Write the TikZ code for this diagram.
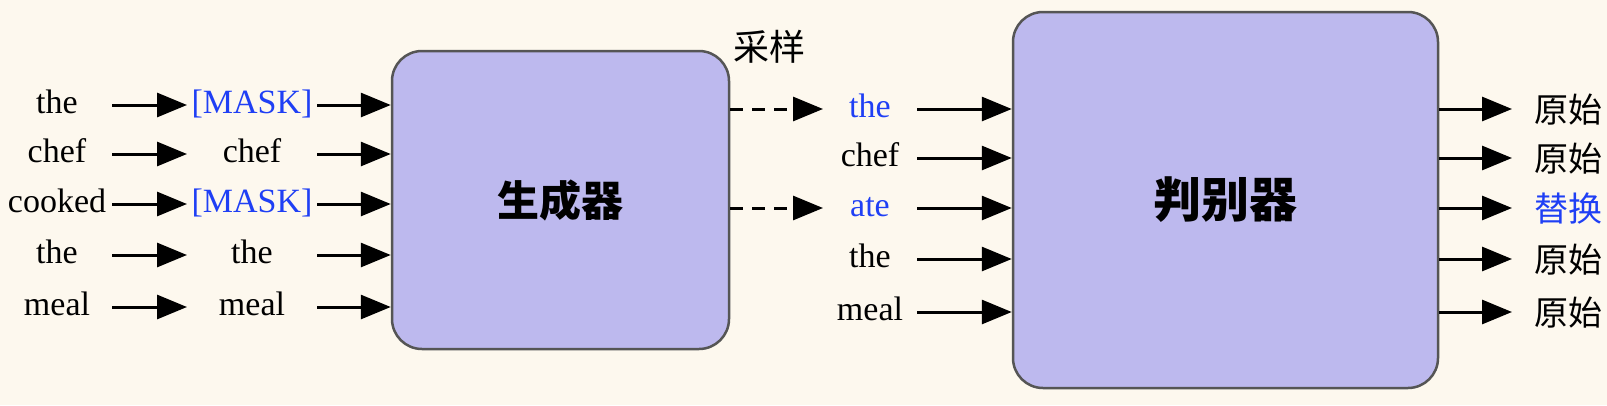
\documentclass[tikz,border=0pt]{standalone}
\usepackage{fontspec}
\setmainfont{Liberation Serif}
\newfontfamily\cjk{Noto Sans CJK SC}
\usetikzlibrary{arrows.meta}
\definecolor{bgc}{HTML}{FDF8EE}
\definecolor{boxc}{HTML}{BDB9EE}
\definecolor{edgec}{HTML}{555555}
\definecolor{bluec}{HTML}{1F3FF5}
\begin{document}
\begin{tikzpicture}[x=1pt,y=-1pt,
  arr/.style={line width=3pt,-{Triangle[length=30pt,width=24pt]}},
  dsh/.style={arr,dash pattern=on 13pt off 9pt},
  wd/.style={inner sep=0pt,outer sep=0pt,font=\fontsize{34}{36}\selectfont,text height=20pt,text depth=4pt,align=center},
  cw/.style={inner sep=0pt,outer sep=0pt,font=\cjk\fontsize{34}{36}\selectfont,text height=30pt,text depth=4pt,align=center},
  bigbox/.style={draw=edgec,line width=2.5pt,fill=boxc,rounded corners=30pt,inner sep=0pt,font=\cjk\bfseries},
  blue/.style={text=bluec}]
\fill[bgc] (0,0) rectangle (1607,405);
\useasboundingbox (0,0) rectangle (1607,405);
% boxes
\node[bigbox,minimum width=337pt,minimum height=298pt,font=\cjk\bfseries\fontsize{42}{44}\selectfont] (gen) at (560.5,200) {生成器};
\node[bigbox,minimum width=425pt,minimum height=376pt,font=\cjk\bfseries\fontsize{48}{50}\selectfont] (dis) at (1225.5,200) {判别器};
% column 1
\foreach \i/\w/\y in {1/the/105,2/chef/154,3/cooked/204,4/the/255,5/meal/307}{
  \node[wd,minimum width=110pt] (a\i) at (57,\y) {\w};
}
% column 2
\node[wd,minimum width=130pt,blue] (b1) at (252,105) {[MASK]};
\node[wd,minimum width=130pt] (b2) at (252,154) {chef};
\node[wd,minimum width=130pt,blue] (b3) at (252,204) {[MASK]};
\node[wd,minimum width=130pt] (b4) at (252,255) {the};
\node[wd,minimum width=130pt] (b5) at (252,307) {meal};
\foreach \i in {1,...,5}{
  \draw[arr] (a\i.east) -- (b\i.west);
  \draw[arr] (b\i.east) -- (b\i.east -| gen.west);
}
% column 3
\node[wd,minimum width=94pt,blue] (c1) at (870,109) {the};
\node[wd,minimum width=94pt] (c2) at (870,158) {chef};
\node[wd,minimum width=94pt,blue] (c3) at (870,208) {ate};
\node[wd,minimum width=94pt] (c4) at (870,259) {the};
\node[wd,minimum width=94pt] (c5) at (870,312) {meal};
\draw[dsh] (c1.west -| gen.east) -- (c1.west);
\draw[dsh] (c3.west -| gen.east) -- (c3.west);
\node[cw,font=\cjk\fontsize{36}{38}\selectfont] (samp) at (769,47) {采样};
% outputs
\node[cw,minimum width=112pt] (o1) at (1568,109) {原始};
\node[cw,minimum width=112pt] (o2) at (1568,158) {原始};
\node[cw,minimum width=112pt,blue] (o3) at (1568,208) {替换};
\node[cw,minimum width=112pt] (o4) at (1568,259) {原始};
\node[cw,minimum width=112pt] (o5) at (1568,312) {原始};
\foreach \i in {1,...,5}{
  \draw[arr] (c\i.east) -- (c\i.east -| dis.west);
  \draw[arr] (o\i.west -| dis.east) -- (o\i.west);
}
\end{tikzpicture}
\end{document}
